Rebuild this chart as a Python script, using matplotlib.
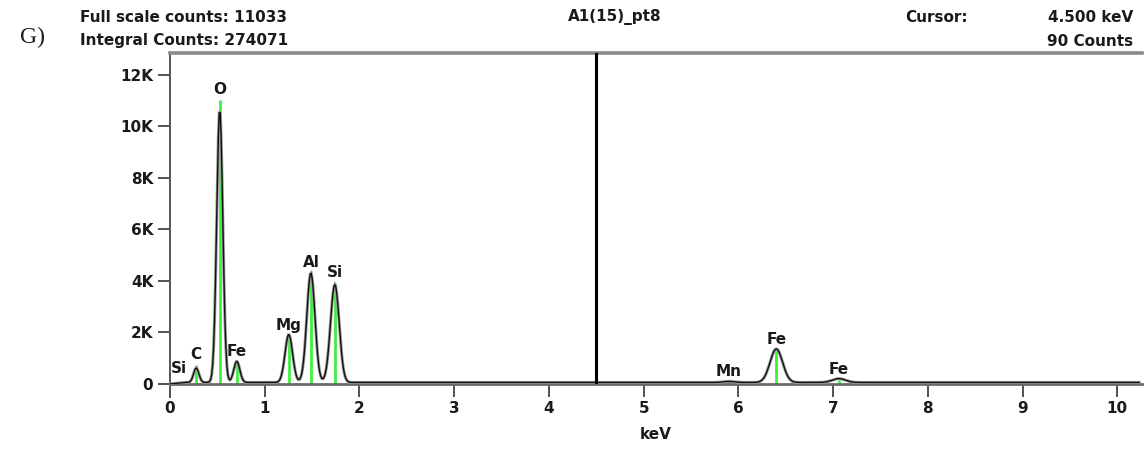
import numpy as np
import matplotlib
matplotlib.use("Agg")
import matplotlib.pyplot as plt
from matplotlib.lines import Line2D

# Spectrum peaks: centre (keV), height (counts), width sigma (keV)
peak_energy = [0.277, 0.525, 0.705, 1.254, 1.487, 1.740, 5.90, 6.40, 7.06]
peak_height = [560, 10600, 820, 1860, 4250, 3800, 40, 1300, 150]
peak_sigma = [0.028, 0.032, 0.032, 0.040, 0.043, 0.046, 0.06, 0.066, 0.07]
background_counts = 60

# KLM element markers: label, energy (keV), marker height (counts)
marker_labels = ["C", "O", "Fe", "Mg", "Al", "Si", "Mn", "Fe", "Fe"]
marker_energy = [0.277, 0.525, 0.705, 1.254, 1.487, 1.740, 5.90, 6.40, 7.06]
marker_height = [750, 11030, 860, 1860, 4310, 3920, 90, 1320, 150]

# Extra label at the low-energy end
low_label = "Si"
low_label_energy = 0.09
low_label_counts = 620

x_ticks = [0, 1, 2, 3, 4, 5, 6, 7, 8, 9, 10]
y_ticks = [0, 2000, 4000, 6000, 8000, 10000, 12000]
y_tick_labels = ["0", "2K", "4K", "6K", "8K", "10K", "12K"]

cursor_kev = 4.5
title = "A1(15)_pt8"
full_scale = "Full scale counts: 11033"
integral = "Integral Counts: 274071"
cursor_text = "Cursor:"
cursor_value = "4.500 keV"
cursor_counts = "90 Counts"

# Channel grid and summed peak profile
energy = np.arange(0.0, 10.24, 0.01)
counts = np.full_like(energy, float(background_counts))
counts *= np.clip(energy / 0.15, 0, 1)
for c, h, s in zip(peak_energy, peak_height, peak_sigma):
    counts += h * np.exp(-0.5 * ((energy - c) / s) ** 2)

W, H = 1147, 450
fig = plt.figure(figsize=(W / 100, H / 100), dpi=100)
ax = fig.add_axes([170 / W, (H - 384) / H, (1142 - 170) / W, (384 - 53) / H])

green = "#3ef03e"
for e, h in zip(marker_energy, marker_height):
    ax.vlines(e, 0, h, color=green, lw=2.0, zorder=2)

ax.plot(energy, counts, color="#9a9a9a", lw=2.2, zorder=3, solid_joinstyle="miter")
ax.plot(energy, counts, color="#111111", lw=1.0, zorder=4)

ax.axvline(cursor_kev, color="black", lw=2.2, zorder=5)

FS = 11
lab_font = dict(fontsize=FS, fontweight="bold", color="#1a1a1a",
                ha="center", va="bottom")
for lab, e, h in zip(marker_labels, marker_energy, marker_height):
    ax.annotate(lab, (e, h), xytext=(0, 2), textcoords="offset points",
                annotation_clip=False, **lab_font)
ax.text(low_label_energy, low_label_counts, low_label,
        fontsize=FS, fontweight="bold", color="#1a1a1a",
        ha="center", va="center")

ax.set_xlim(0, 10.26)
ax.set_ylim(0, 12850)
ax.set_xticks(x_ticks)
ax.set_xticklabels([str(t) for t in x_ticks])
ax.set_yticks(y_ticks)
ax.set_yticklabels(y_tick_labels)
ax.tick_params(axis="both", direction="out", length=9, width=1.3,
               color="#444444", labelsize=FS, pad=3)
for lbl in ax.get_xticklabels() + ax.get_yticklabels():
    lbl.set_fontweight("bold")
    lbl.set_color("#1a1a1a")
ax.set_xlabel("keV", fontsize=FS, fontweight="bold", color="#1a1a1a", labelpad=8)

ax.spines["right"].set_visible(False)
ax.spines["top"].set_color("#8a8a8a")
ax.spines["top"].set_linewidth(2.6)
ax.spines["bottom"].set_color("#6a6a6a")
ax.spines["bottom"].set_linewidth(2.0)
ax.spines["left"].set_color("#555555")
ax.spines["left"].set_linewidth(1.4)
# left frame line continues below the baseline
ax.add_line(Line2D([0, 0], [0, -0.04], transform=ax.transAxes, color="#555555",
                   lw=1.4, clip_on=False))

def fy(py):
    return 1 - py / H

hdr = dict(fontsize=FS, fontweight="bold", color="#1a1a1a", va="center")
fig.text(80 / W, fy(17), full_scale, ha="left", **hdr)
fig.text(80 / W, fy(41), integral, ha="left", **hdr)
fig.text(615 / W, fy(17), title, ha="center", **hdr)
fig.text(905 / W, fy(17), cursor_text, ha="left", **hdr)
fig.text(1133 / W, fy(17), cursor_value, ha="right", **hdr)
fig.text(1133 / W, fy(41), cursor_counts, ha="right", **hdr)
fig.text(20 / W, fy(37), "G)", ha="left", va="center", fontsize=17,
         family="Liberation Serif", color="#1a1a1a")

fig.savefig("out.png", dpi=100, facecolor="white")
